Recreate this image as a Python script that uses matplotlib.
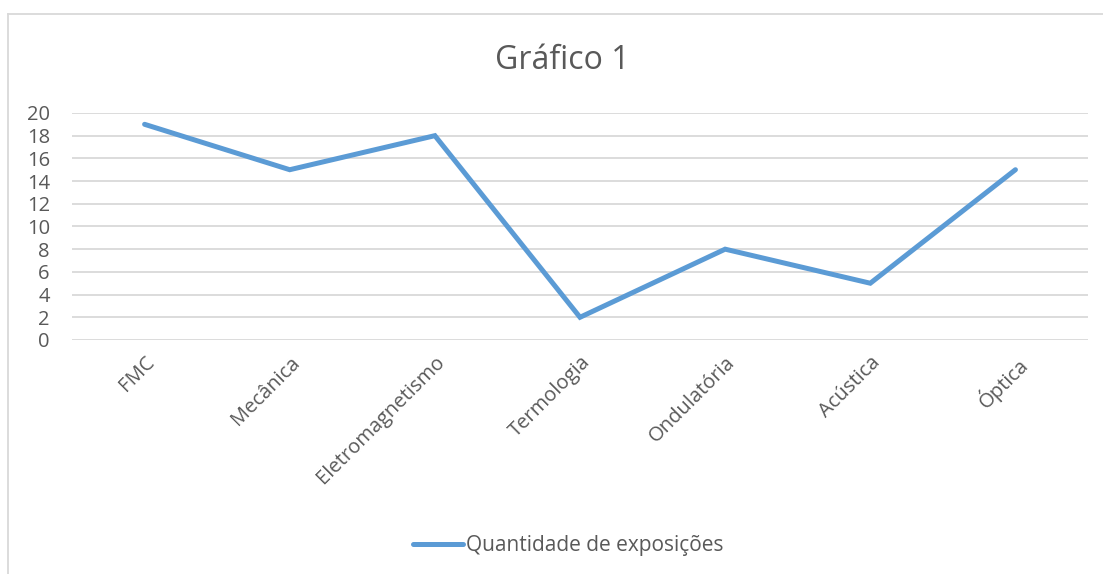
import matplotlib.pyplot as plt
from matplotlib.lines import Line2D

plt.rcParams['font.family'] = ['Open Sans', 'DejaVu Sans']

categorias = ['FMC', 'Mecânica', 'Eletromagnetismo', 'Termologia',
              'Ondulatória', 'Acústica', 'Óptica']
exposicoes = [19, 15, 18, 2, 8, 5, 15]
yticks = list(range(0, 21, 2))

cor_texto = '#595959'
cor_linha = '#5B9BD5'

fig = plt.figure(figsize=(11.03, 5.74), dpi=100)
ax = fig.add_axes([0.0653, 0.4077, 0.9211, 0.3955])

x = list(range(len(categorias)))
ax.plot(x, exposicoes, color=cor_linha, linewidth=3.6, solid_capstyle='round',
        solid_joinstyle='miter', label='Quantidade de exposições')

ax.set_xlim(-0.5, len(categorias) - 0.5)
ax.set_ylim(0, 20)
ax.set_yticks(yticks)
ax.set_yticklabels([str(v) for v in yticks], color=cor_texto, fontsize=14.5)
ax.set_xticks(x)
ax.set_xticklabels(categorias, rotation=45, ha='right', va='top',
                   rotation_mode='anchor', color=cor_texto, fontsize=14.5)
ax.tick_params(axis='y', length=0, pad=16)
ax.tick_params(axis='x', length=0, pad=9)
ax.grid(axis='y', color='#D9D9D9', linewidth=1.3)
ax.set_axisbelow(True)
for s in ax.spines.values():
    s.set_visible(False)

fig.text(0.51, 0.895, 'Gráfico 1', ha='center', va='center',
         fontsize=23, color=cor_texto)

leg = fig.legend(loc='center', bbox_to_anchor=(0.515, 0.05), frameon=False,
                 fontsize=15, handlelength=2.4, handletextpad=0.15)
for t in leg.get_texts():
    t.set_color(cor_texto)

# chart area border (cut at the right and bottom of the capture)
fig.add_artist(Line2D([8 / 1103, 1.0], [1 - 14 / 574, 1 - 14 / 574],
                      transform=fig.transFigure, color='#D9D9D9', linewidth=1.3))
fig.add_artist(Line2D([8 / 1103, 8 / 1103], [0, 1 - 14 / 574],
                      transform=fig.transFigure, color='#D9D9D9', linewidth=1.3))

fig.savefig('out.png', dpi=100)
